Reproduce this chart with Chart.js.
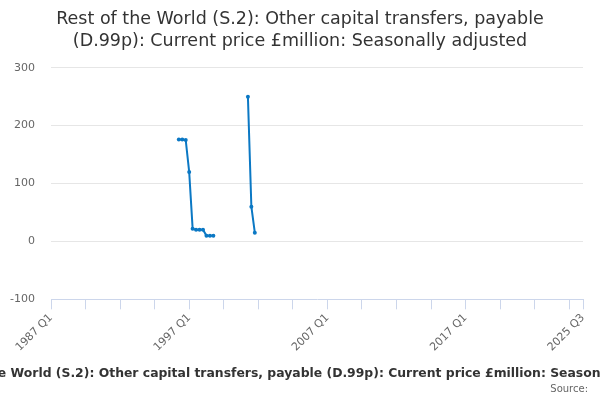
<!DOCTYPE html>
<html>
<head>
<meta charset="utf-8">
<script src="https://cdn.jsdelivr.net/npm/chart.js@4"></script>
<style>
html,body{margin:0;padding:0;background:#fff;}
#wrap{width:600px;height:400px;position:relative;}
</style>
</head>
<body>
<div id="wrap"><canvas id="c" width="600" height="400"></canvas></div>
<script>
// Categories: quarters 1987 Q1 .. 2025 Q3
const startYear = 1987;
const endYear = 2025;
const endQuarter = 3;
const categories = [];
for (let y = startYear; y <= endYear; y++) {
  for (let q = 1; q <= 4; q++) {
    if (y === endYear && q > endQuarter) break;
    categories.push(y + ' Q' + q);
  }
}
// Observed periods and values (null breaks the line)
const periods = ['1996 Q2','1996 Q3','1996 Q4','1997 Q1','1997 Q2','1997 Q3','1997 Q4','1998 Q1','1998 Q2','1998 Q3','1998 Q4','1999 Q1','2001 Q2','2001 Q3','2001 Q4'];
const values  = [176, 176, 175, 120, 22, 20, 20, 20, 10, 10, 10, null, 250, 60, 15];
const labelledTicks = ['1987 Q1','1997 Q1','2007 Q1','2017 Q1','2025 Q3'];
const yTicks = [-100, 0, 100, 200, 300];
const titleLines = ['Rest of the World (S.2): Other capital transfers, payable', '(D.99p): Current price £million: Seasonally adjusted'];
const axisTitle = 'Rest of the World (S.2): Other capital transfers, payable (D.99p): Current price £million: Seasonally adjusted';
const sourceText = 'Source:';

const FONT = "'DejaVu Sans', sans-serif";

const bottomTextPlugin = {
  id: 'bottomText',
  afterDraw(chart) {
    const ctx = chart.ctx;
    ctx.save();
    ctx.textBaseline = 'alphabetic';
    ctx.font = 'bold 12.4px ' + FONT;
    ctx.fillStyle = '#333333';
    ctx.textAlign = 'center';
    ctx.fillText(axisTitle, 310, 377);
    ctx.font = '10px ' + FONT;
    ctx.fillStyle = '#666666';
    ctx.textAlign = 'right';
    ctx.fillText(sourceText, 588, 392);
    ctx.restore();
  }
};

new Chart(document.getElementById('c'), {
  type: 'line',
  data: {
    labels: categories,
    datasets: [{
      data: periods.map((p, i) => ({x: p, y: values[i]})),
      borderColor: '#0b78c4',
      backgroundColor: '#0b78c4',
      borderWidth: 2,
      pointRadius: 2,
      pointBorderWidth: 0,
      pointHoverRadius: 2,
      tension: 0,
      spanGaps: false
    }]
  },
  options: {
    responsive: false,
    animation: false,
    events: [],
    layout: { padding: { left: 8, right: 8, top: 0, bottom: 44 } },
    plugins: {
      legend: { display: false },
      tooltip: { enabled: false },
      title: {
        display: true,
        text: titleLines,
        color: '#333333',
        font: { family: FONT, size: 17.5, weight: 'normal', lineHeight: 1.22 },
        padding: { top: 9, bottom: 16 }
      }
    },
    scales: {
      x: {
        type: 'category',
        offset: false,
        afterBuildTicks(scale) {
          const t = [];
          for (let i = 0; i < categories.length - 1; i += 10) t.push({value: i});
          t.push({value: categories.length - 1});
          scale.ticks = t;
        },
        afterFit(scale) { scale.paddingLeft = 0; scale.paddingRight = 17; },
        ticks: {
          autoSkip: false,
          minRotation: 45,
          maxRotation: 45,
          color: '#666666',
          font: { family: FONT, size: 11 },
          padding: 2,
          callback(value) {
            const l = categories[value];
            return labelledTicks.includes(l) ? l : '';
          }
        },
        grid: {
          display: true,
          drawOnChartArea: false,
          drawTicks: true,
          tickLength: 10,
          color: '#ccd6eb',
          lineWidth: 1
        },
        border: { display: true, color: '#ccd6eb', width: 1 }
      },
      y: {
        min: -100,
        max: 300,
        afterBuildTicks(scale) { scale.ticks = yTicks.map(v => ({value: v})); },
        afterFit(scale) { scale.width = 43; },
        ticks: {
          color: '#666666',
          font: { family: FONT, size: 11 },
          padding: 16
        },
        grid: {
          drawTicks: false,
          color: (c) => (c.tick && c.tick.value === -100) ? 'rgba(0,0,0,0)' : '#e6e6e6',
          lineWidth: 1
        },
        border: { display: false }
      }
    }
  },
  plugins: [bottomTextPlugin]
});
</script>
</body>
</html>
